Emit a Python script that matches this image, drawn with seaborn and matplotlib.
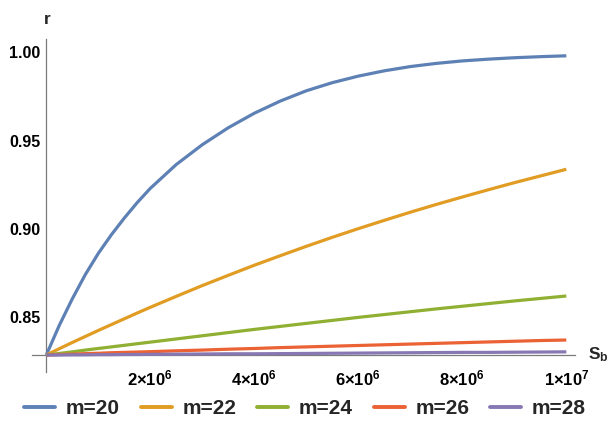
import numpy as np
import pandas as pd
import seaborn as sns
import matplotlib
matplotlib.use('Agg')
import matplotlib.pyplot as plt
from matplotlib.ticker import MultipleLocator, FuncFormatter
from matplotlib.lines import Line2D

# S_b values
s_b = [0, 0.25e6, 0.5e6, 0.75e6, 1e6, 1.25e6, 1.5e6, 1.75e6, 2e6, 2.5e6, 3e6, 3.5e6, 4e6,
       4.5e6, 5e6, 5.5e6, 6e6, 6.5e6, 7e6, 7.5e6, 8e6, 8.5e6, 9e6, 9.5e6, 1e7]

r_m20 = [0.8287, 0.8455, 0.8605, 0.8742, 0.8862, 0.8967, 0.9062, 0.9150, 0.9230, 0.9365,
         0.9477, 0.9573, 0.9655, 0.9724, 0.9782, 0.9828, 0.9865, 0.9895, 0.9919, 0.9937,
         0.9951, 0.9961, 0.9969, 0.9975, 0.9980]
r_m22 = [0.8287, 0.8323, 0.8358, 0.8392, 0.8426, 0.8459, 0.8492, 0.8525, 0.8557, 0.8619,
         0.8680, 0.8738, 0.8795, 0.8849, 0.8902, 0.8953, 0.9002, 0.9049, 0.9095, 0.9139,
         0.9181, 0.9222, 0.9262, 0.9300, 0.9338]
r_m24 = [0.8287, 0.8296, 0.8305, 0.8315, 0.8324, 0.8333, 0.8342, 0.8351, 0.8360, 0.8378,
         0.8396, 0.8414, 0.8432, 0.8449, 0.8466, 0.8483, 0.8500, 0.8516, 0.8532, 0.8548,
         0.8563, 0.8578, 0.8593, 0.8607, 0.8621]
r_m26 = [0.8287, 0.8290, 0.8292, 0.8295, 0.8297, 0.8300, 0.8302, 0.8304, 0.8306, 0.8311,
         0.8315, 0.8320, 0.8324, 0.8329, 0.8333, 0.8337, 0.8341, 0.8345, 0.8349, 0.8353,
         0.8357, 0.8361, 0.8365, 0.8369, 0.8372]
r_m28 = [0.8287, 0.8287, 0.8288, 0.8288, 0.8289, 0.8289, 0.8290, 0.8290, 0.8291, 0.8292,
         0.8293, 0.8294, 0.8294, 0.8295, 0.8296, 0.8297, 0.8298, 0.8299, 0.8300, 0.8301,
         0.8302, 0.8302, 0.8303, 0.8304, 0.8305]

labels = ['m=20', 'm=22', 'm=24', 'm=26', 'm=28']
colors = ['#5E81B5', '#E19C24', '#8FB032', '#EB6235', '#8778B3']

sns.set_style('white')
plt.rcParams['font.family'] = ['Liberation Sans', 'DejaVu Sans']
plt.rcParams['font.weight'] = 'bold'
plt.rcParams['mathtext.fontset'] = 'custom'
plt.rcParams['mathtext.rm'] = 'Liberation Sans'
plt.rcParams['mathtext.bf'] = 'Liberation Sans:bold'

df = pd.concat([pd.DataFrame({'s_b': s_b, 'r': vals, 'm': lab})
                for vals, lab in zip([r_m20, r_m22, r_m24, r_m26, r_m28], labels)])

fig = plt.figure(figsize=(6.1, 4.3), dpi=100)
ax = fig.add_axes([32 / 610, 1 - 372 / 430, (575 - 32) / 610, (372 - 39) / 430])

sns.lineplot(data=df, x='s_b', y='r', hue='m', hue_order=labels,
             palette=colors, linewidth=2.3, legend=False, ax=ax)
for ln in ax.lines:
    ln.set_zorder(3)
    ln.set_solid_capstyle('butt')
    ln.set_solid_joinstyle('round')

ax.set_xlim(-0.275e6, 10.167e6)
ax.set_ylim(0.8191, 1.0075)

axis_col = '#7a7a7a'
for side in ['top', 'right']:
    ax.spines[side].set_visible(False)
ax.spines['left'].set_position(('data', 0))
ax.spines['bottom'].set_position(('data', 0.8287))
for side in ['left', 'bottom']:
    ax.spines[side].set_color(axis_col)
    ax.spines[side].set_linewidth(0.9)
    ax.spines[side].set_zorder(2)

ax.xaxis.set_major_locator(MultipleLocator(2e6))
ax.xaxis.set_minor_locator(MultipleLocator(0.5e6))
ax.yaxis.set_major_locator(MultipleLocator(0.05))
ax.yaxis.set_minor_locator(MultipleLocator(0.01))


def sci_fmt(v, pos):
    if v <= 0:
        return ''
    e = int(np.floor(np.log10(v) + 1e-9))
    m = int(round(v / 10 ** e))
    return rf'$\mathbf{{{m}{{\times}}10^{{{e}}}}}$'


ax.xaxis.set_major_formatter(FuncFormatter(sci_fmt))
ax.yaxis.set_major_formatter(FuncFormatter(lambda v, p: f'{v:.2f}' if v > 0.84 else ''))

ax.tick_params(axis='both', which='both', direction='in', color=axis_col,
               width=0.9, labelcolor='black')
ax.tick_params(axis='both', which='major', length=5)
ax.tick_params(axis='both', which='minor', length=3)
ax.tick_params(axis='x', which='major', labelsize=12, pad=10)
ax.tick_params(axis='y', which='major', labelsize=11.5, pad=4)
for t in ax.get_yticklabels():
    t.set_fontweight('bold')

ax.set_xlabel('')
ax.set_ylabel('')

fig.text(47 / 610, 1 - 20 / 430, 'r', ha='center', va='center',
         fontsize=12.5, fontweight='bold')
fig.text(588 / 610, 1 - 355 / 430, r'$\mathbf{S_b}$', ha='left', va='center',
         fontsize=12.5)

handles = [Line2D([], [], color=c, linewidth=2.8) for c in colors]
fig.legend(handles, labels, loc='center', bbox_to_anchor=(0.5, 1 - 409 / 430),
           ncol=5, frameon=False, prop={'size': 15, 'weight': 'bold'},
           handlelength=1.5, handletextpad=0.5, columnspacing=1.0)

fig.savefig('out.png', dpi=100)
